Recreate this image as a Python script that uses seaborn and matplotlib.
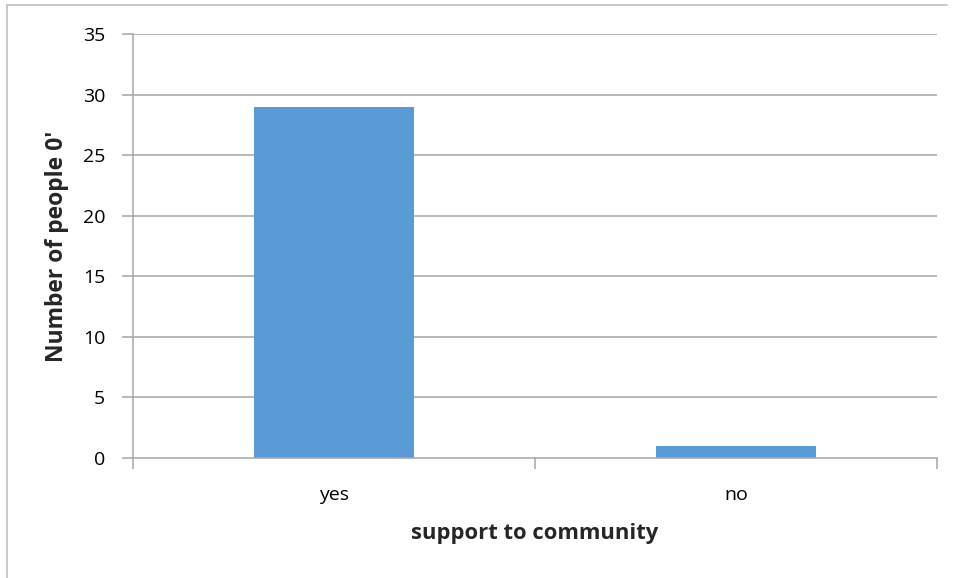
import matplotlib
matplotlib.use("Agg")
import matplotlib.pyplot as plt
import seaborn as sns
import pandas as pd
from matplotlib.lines import Line2D

categories = ["yes", "no"]
values = [29, 1]
y_ticks = [0, 5, 10, 15, 20, 25, 30, 35]

sns.set_theme(style="white")
plt.rcParams['font.family'] = ['Open Sans', 'DejaVu Sans']

df = pd.DataFrame({"cat": categories, "val": values})

fig = plt.figure(figsize=(9.57, 5.78), dpi=100)
ax = fig.add_axes([133/957, 1-458/578, (937-133)/957, (458-34)/578])

grid_c = "#A6A6A6"
ax.set_axisbelow(True)
for t in y_ticks[1:]:
    ax.axhline(t, color=grid_c, lw=1.1, zorder=0)

sns.barplot(data=df, x="cat", y="val", color="#5B9BD5", width=0.4, saturation=1,
            linewidth=0, edgecolor="none", ax=ax, zorder=2)

ax.set_xlim(-0.5, 1.5)
ax.set_ylim(0, 35)
ax.set_yticks(y_ticks)
ax.set_yticklabels([str(t) for t in y_ticks], fontsize=14, color="#000000")
ax.set_xticks([-0.5, 0.5, 1.5], minor=False)
ax.set_xticklabels([])
ax.set_xticks([0, 1], minor=True)
ax.set_xticklabels(categories, minor=True, fontsize=14, color="#000000")

ax.tick_params(axis="y", which="major", left=True, length=8, width=1.1, color=grid_c, pad=12)
ax.tick_params(axis="x", which="major", bottom=True, length=8, width=1.1, color=grid_c)
ax.tick_params(axis="x", which="minor", bottom=False, length=0, pad=20)

for s in ["top", "right"]:
    ax.spines[s].set_visible(False)
for s in ["left", "bottom"]:
    ax.spines[s].set_color(grid_c)
    ax.spines[s].set_linewidth(1.1)

ax.set_xlabel("support to community", fontsize=15.8, fontweight="bold", labelpad=14)
ax.set_ylabel("Number of people 0'", fontsize=16.5, fontweight="bold", labelpad=10)

# outer chart border (left and top visible)
fig.add_artist(Line2D([6.5/957, 6.5/957], [0, 1-5/578], transform=fig.transFigure, color="#BFBFBF", lw=1.2))
fig.add_artist(Line2D([6.5/957, 947/957], [1-5/578, 1-5/578], transform=fig.transFigure, color="#BFBFBF", lw=1.2))

fig.savefig("out.png", dpi=100)
